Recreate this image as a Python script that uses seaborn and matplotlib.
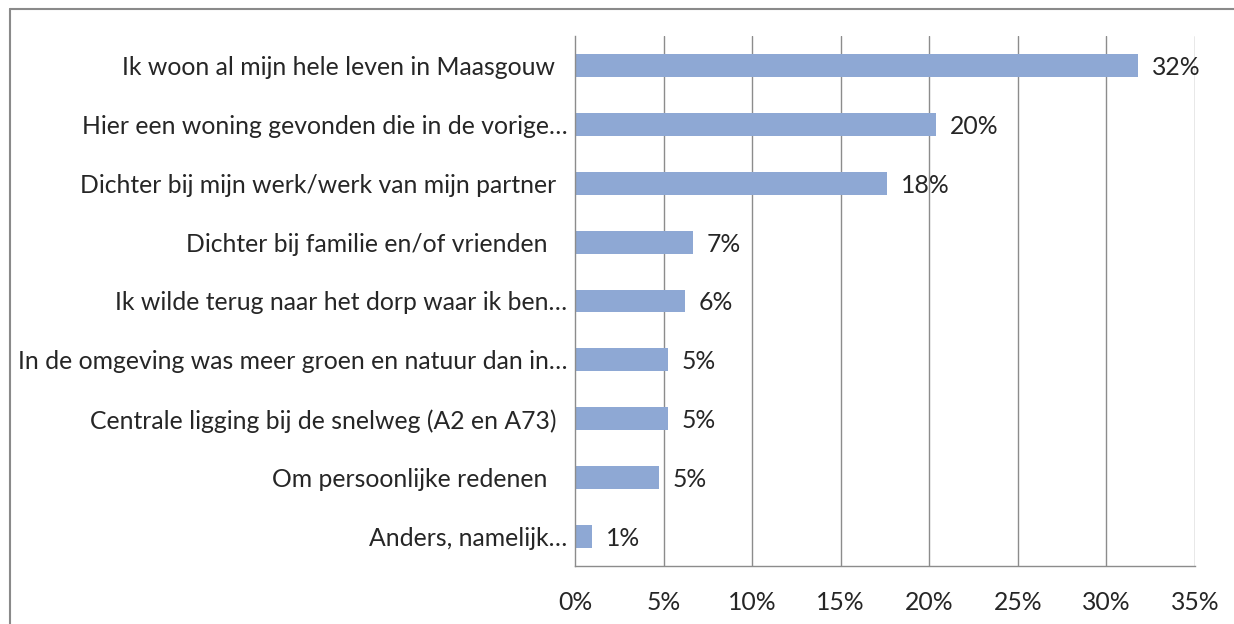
import matplotlib
matplotlib.use("Agg")
import matplotlib.pyplot as plt
import matplotlib.transforms as mtransforms
from matplotlib.lines import Line2D
import seaborn as sns
import pandas as pd
import numpy as np

categories = [
    "Ik woon al mijn hele leven in Maasgouw",
    "Hier een woning gevonden die in de vorige…",
    "Dichter bij mijn werk/werk van mijn partner",
    "Dichter bij familie en/of vrienden",
    "Ik wilde terug naar het dorp waar ik ben…",
    "In de omgeving was meer groen en natuur dan in…",
    "Centrale ligging bij de snelweg (A2 en A73)",
    "Om persoonlijke redenen",
    "Anders, namelijk…",
]
values = [31.8, 20.4, 17.6, 6.65, 6.2, 5.23, 5.23, 4.72, 0.98]
value_labels = ["32%", "20%", "18%", "7%", "6%", "5%", "5%", "5%", "1%"]
x_ticks = [0, 5, 10, 15, 20, 25, 30, 35]
x_tick_labels = ["0%", "5%", "10%", "15%", "20%", "25%", "30%", "35%"]

# extra left shift (px) per category label, mimicking the reference layout
label_shift_px = [14, 2, 13, 22, 2, 2, 13, 22, 2]

W, H, DPI = 1234, 624, 100
sns.set_theme(style="white")
plt.rcParams["font.family"] = ["Lato", "DejaVu Sans"]
text_color = "#262626"
grid_color = "#8c8c8c"
bar_color = "#8EA8D4"
fs = 17.8

df = pd.DataFrame({"cat": categories, "val": values})

fig = plt.figure(figsize=(W / DPI, H / DPI), dpi=DPI)
fig.patch.set_facecolor("white")
ax = fig.add_axes([575 / W, 1 - 566 / H, (1195 - 575) / W, (566 - 36) / H])

sns.barplot(data=df, x="val", y="cat", order=categories, color=bar_color,
            width=0.39, orient="h", ax=ax, saturation=1, edgecolor="none")

ax.set_xlim(0, 35)
ax.set_ylim(len(categories) - 0.5, -0.5)
ax.set_xticks(x_ticks)
ax.set_xticklabels(x_tick_labels, fontsize=fs, color=text_color)
ax.set_xlabel("")
ax.set_ylabel("")
ax.set_yticks(range(len(categories)))
ax.set_yticklabels(categories, fontsize=fs, color=text_color)
ax.tick_params(axis="y", which="major", length=0, pad=4)
ax.set_yticks(np.arange(len(categories) + 1) - 0.5, minor=True)
ax.tick_params(axis="y", which="minor", length=5, width=1, color=grid_color, direction="out")
ax.tick_params(axis="x", which="major", length=10, width=1, color=grid_color, direction="out", pad=8)

for x in x_ticks[1:]:
    ax.axvline(x, color=grid_color, lw=1, zorder=0)

for s in ["top", "right"]:
    ax.spines[s].set_visible(False)
for s in ["left", "bottom"]:
    ax.spines[s].set_color(grid_color)
    ax.spines[s].set_linewidth(1)

for lab, sh in zip(ax.get_yticklabels(), label_shift_px):
    lab.set_transform(lab.get_transform() + mtransforms.ScaledTranslation(-sh / DPI, 0, fig.dpi_scale_trans))

for i, (v, t) in enumerate(zip(values, value_labels)):
    ax.annotate(t, xy=(v, i), xytext=(14, -2), textcoords="offset pixels",
                ha="left", va="center", fontsize=fs, color=text_color)

# outer chart border (top and left edges only visible in the crop)
bx, by = 9.5 / W, 1 - 8.5 / H
fig.add_artist(Line2D([bx, 1.05], [by, by], transform=fig.transFigure, color="#8a8a8a", lw=1.5))
fig.add_artist(Line2D([bx, bx], [-0.05, by], transform=fig.transFigure, color="#8a8a8a", lw=1.5))

fig.savefig("out.png", dpi=DPI, facecolor="white")
